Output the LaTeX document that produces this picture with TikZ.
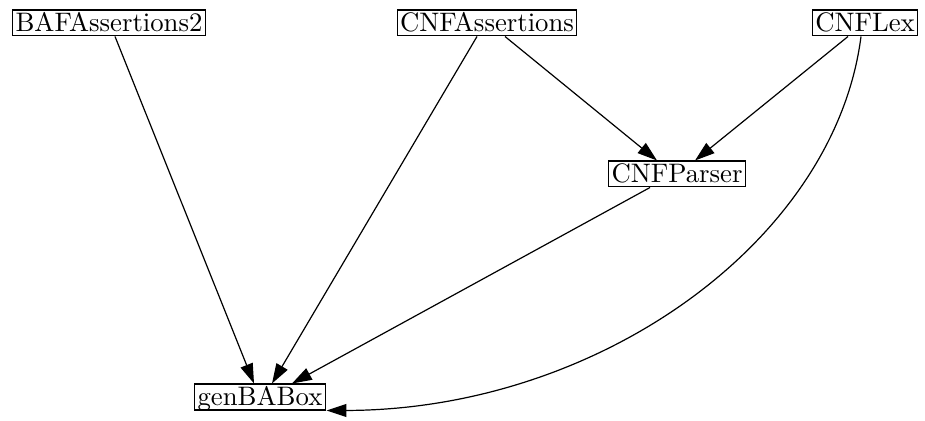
\documentclass[tikz,border=0pt]{standalone}
\usetikzlibrary{arrows.meta}
\begin{document}
\begin{tikzpicture}[x=0.374pt,y=-0.374pt,
  box/.style={draw,line width=0.4pt,inner xsep=1pt,inner ysep=0pt,minimum height=9.7pt,text height=6.9pt,text depth=0.6pt,font=\fontsize{10}{12}\selectfont},
  edge/.style={line width=0.45pt,-{Triangle[length=7.4pt,width=4.8pt]}}]
\useasboundingbox (0,0) rectangle (925,421);
\node[box] (baf) at (109,23) {BAFAssertions2};
\node[box] (cnfa) at (487,23) {CNFAssertions};
\node[box] (lex) at (865,23) {CNFLex};
\node[box] (parser) at (677,174) {CNFParser};
\node[box] (gen) at (260,397) {genBABox};
\draw[edge] ([xshift=6*0.374pt]baf.south) -- ([xshift=-6*0.374pt]gen.north);
\draw[edge] ([xshift=-10*0.374pt]cnfa.south) -- ([xshift=12*0.374pt]gen.north);
\draw[edge] ([xshift=18*0.374pt]cnfa.south) -- ([xshift=-20*0.374pt]parser.north);
\draw[edge] ([xshift=-17*0.374pt]lex.south) -- ([xshift=18*0.374pt]parser.north);
\draw[edge] ([xshift=-27*0.374pt]parser.south) -- ([xshift=32*0.374pt]gen.north);
\draw[edge] ([xshift=-4*0.374pt]lex.south) .. controls (835,240) and (600,410) .. ([xshift=1*0.374pt]gen.south east);
\end{tikzpicture}
\end{document}
